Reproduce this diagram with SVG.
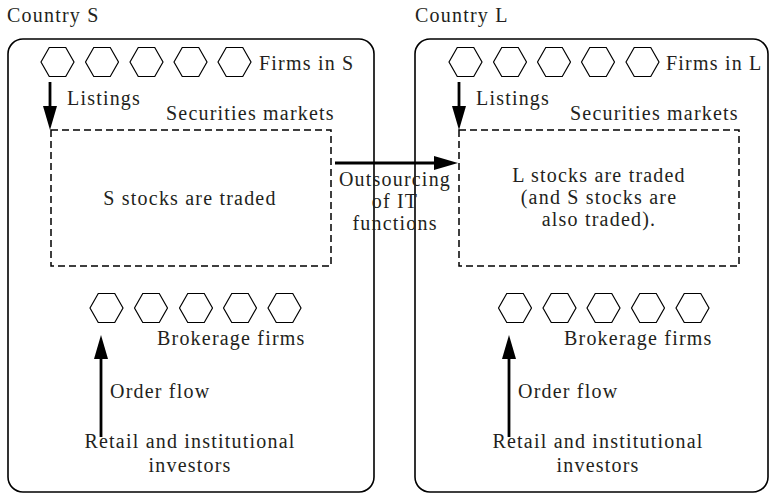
<svg xmlns="http://www.w3.org/2000/svg" xmlns:xlink="http://www.w3.org/1999/xlink" width="775" height="495" viewBox="0 0 775 495">
<style>
  .mid { text-anchor: middle; }
  .country { fill: none; stroke: #000; stroke-width: 1.6; }
  .market { fill: none; stroke: #000; stroke-width: 1.5; stroke-dasharray: 7 4; }
  .hex { fill: #fff; stroke: #000; stroke-width: 1.2; }
  .arrow { fill: none; stroke: #000; stroke-width: 2.8; marker-end: url(#head); }
</style>
<defs>
  <polygon id="hexshape" class="hex" points="-16.5,0 -8.25,-14.5 8.25,-14.5 16.5,0 8.25,14.5 -8.25,14.5"/>
  <marker id="head" viewBox="0 0 24 14" refX="14" refY="7" markerWidth="24" markerHeight="14" markerUnits="userSpaceOnUse" orient="auto">
    <polygon points="0,0 24,7 0,14" fill="#000"/>
  </marker>
</defs>
<rect width="775" height="495" fill="#fff"/>
<g font-family="'Liberation Serif', 'DejaVu Serif', serif" font-size="20" letter-spacing="1.2" fill="#231f20">
<g id="country-s">
  <text x="7" y="22">Country S</text>
  <rect class="country" x="8" y="39" width="366" height="453" rx="15" ry="15"/>
  <g id="firms-s">
    <use xlink:href="#hexshape" x="57.5" y="62"/>
    <use xlink:href="#hexshape" x="102" y="62"/>
    <use xlink:href="#hexshape" x="146.5" y="62"/>
    <use xlink:href="#hexshape" x="190.5" y="62"/>
    <use xlink:href="#hexshape" x="234.5" y="62"/>
    <text x="259" y="70">Firms in S</text>
  </g>
  <g id="market-s">
    <text x="166" y="120">Securities markets</text>
    <rect class="market" x="51" y="130" width="280" height="136"/>
    <text class="mid" x="190" y="205">S stocks are traded</text>
  </g>
  <g id="brokers-s">
    <use xlink:href="#hexshape" x="106.5" y="308"/>
    <use xlink:href="#hexshape" x="151" y="308"/>
    <use xlink:href="#hexshape" x="196" y="308"/>
    <use xlink:href="#hexshape" x="240" y="308"/>
    <use xlink:href="#hexshape" x="284.5" y="308"/>
    <text x="157" y="345">Brokerage firms</text>
  </g>
  <g id="investors-s">
    <text class="mid" x="190" y="448">Retail and institutional</text>
    <text class="mid" x="190" y="472">investors</text>
  </g>
</g>

<g id="country-l">
  <text x="415" y="22">Country L</text>
  <rect class="country" x="415" y="39" width="353" height="453" rx="15" ry="15"/>
  <g id="firms-l">
    <use xlink:href="#hexshape" x="465.5" y="62"/>
    <use xlink:href="#hexshape" x="510" y="62"/>
    <use xlink:href="#hexshape" x="554" y="62"/>
    <use xlink:href="#hexshape" x="598" y="62"/>
    <use xlink:href="#hexshape" x="642.5" y="62"/>
    <text x="666" y="70">Firms in L</text>
  </g>
  <g id="market-l">
    <text x="570" y="120">Securities markets</text>
    <rect class="market" x="459" y="130" width="280" height="136"/>
    <text class="mid" x="599" y="182">L stocks are traded</text>
    <text class="mid" x="599" y="204">(and S stocks are</text>
    <text class="mid" x="599" y="226">also traded).</text>
  </g>
  <g id="brokers-l">
    <use xlink:href="#hexshape" x="515" y="308"/>
    <use xlink:href="#hexshape" x="559.5" y="308"/>
    <use xlink:href="#hexshape" x="603.5" y="308"/>
    <use xlink:href="#hexshape" x="648" y="308"/>
    <use xlink:href="#hexshape" x="692.5" y="308"/>
    <text x="564" y="345">Brokerage firms</text>
  </g>
  <g id="investors-l">
    <text class="mid" x="598" y="448">Retail and institutional</text>
    <text class="mid" x="598" y="472">investors</text>
  </g>
</g>

<g id="connectors">
  <line class="arrow" x1="50" y1="82" x2="50" y2="120"/>
  <text x="67" y="105">Listings</text>
  <line class="arrow" x1="459" y1="82" x2="459" y2="120"/>
  <text x="476" y="105">Listings</text>
  <line class="arrow" x1="101" y1="437" x2="101" y2="345"/>
  <text x="110" y="398">Order flow</text>
  <line class="arrow" x1="509" y1="437" x2="509" y2="345"/>
  <text x="518" y="398">Order flow</text>
  <line class="arrow" x1="335" y1="163" x2="448" y2="163"/>
  <text class="mid" x="395" y="186">Outsourcing</text>
  <text class="mid" x="395" y="208">of IT</text>
  <text class="mid" x="395" y="230">functions</text>
</g>
</g>
</svg>
